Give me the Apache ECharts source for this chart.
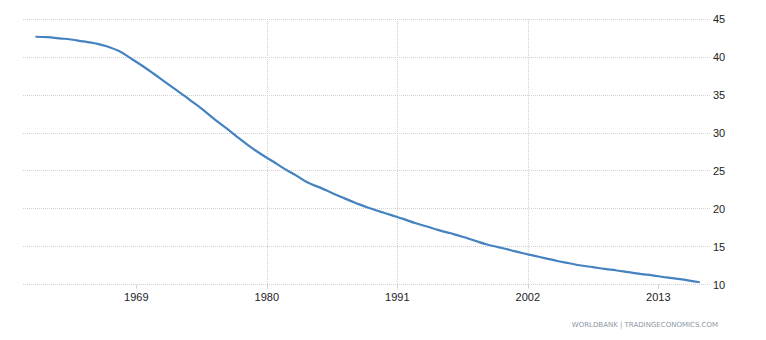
<!DOCTYPE html>
<html>
<head>
<meta charset="utf-8">
<style>
  html, body { margin: 0; padding: 0; background: #fff; }
  #chart { width: 766px; height: 340px; }
</style>
<script src="https://cdn.jsdelivr.net/npm/echarts@6/dist/echarts.min.js"></script>
</head>
<body>
<div id="chart"></div>
<script>
var years = [];
for (var y = 1960; y <= 2016; y++) years.push(y);
var values = [
  42.66, 42.6, 42.45, 42.3, 42.05, 41.8, 41.4, 40.8, 39.85, 38.84,
  37.75, 36.6, 35.5, 34.35, 33.2, 31.9, 30.7, 29.47, 28.27, 27.2,
  26.25, 25.25, 24.35, 23.4, 22.77, 22.07, 21.39, 20.75, 20.15, 19.64,
  19.15, 18.65, 18.1, 17.65, 17.17, 16.75, 16.3, 15.8, 15.3, 14.93,
  14.55, 14.15, 13.8, 13.45, 13.1, 12.8, 12.5, 12.28, 12.05, 11.85,
  11.62, 11.4, 11.2, 10.98, 10.77, 10.55, 10.3
];
var xTicks = [1969, 1980, 1991, 2002, 2013];
var source = 'WORLDBANK | TRADINGECONOMICS.COM';

// annual values sit in the middle of their year
var points = years.map(function(yr, i) { return [yr + 0.5, values[i]]; });

var chart = echarts.init(document.getElementById('chart'), null, { renderer: 'svg' });
chart.setOption({
  animation: false,
  grid: { left: 23, right: 56, top: 19, bottom: 55.5 },
  xAxis: {
    type: 'value',
    min: 1959.45,
    max: 2017.36,
    axisLine: { show: false },
    axisTick: { show: true, customValues: xTicks, length: 4, lineStyle: { color: '#d0d0d0' } },
    axisLabel: {
      customValues: xTicks,
      formatter: function(v) { return String(v); },
      color: '#222',
      fontFamily: 'Liberation Sans, Arial, sans-serif',
      fontSize: 11,
      margin: 7
    },
    splitLine: { show: true, showMinLine: false, showMaxLine: false, lineStyle: { color: '#d2d2d2', type: [1, 1] } }
  },
  yAxis: {
    type: 'value',
    position: 'right',
    min: 10,
    max: 45,
    interval: 5,
    axisLine: { show: false },
    axisTick: { show: false },
    axisLabel: {
      color: '#222',
      fontFamily: 'Liberation Sans, Arial, sans-serif',
      fontSize: 11,
      margin: 3
    },
    splitLine: { lineStyle: { color: '#d2d2d2', type: [1, 1] } }
  },
  graphic: [{
    type: 'text',
    right: 48,
    top: 321,
    style: {
      text: source,
      fill: '#8c98a4',
      font: '7px "DejaVu Sans", Verdana, sans-serif'
    }
  }],
  series: [{
    type: 'line',
    data: points,
    showSymbol: false,
    smooth: true,
    lineStyle: { color: '#4582c0', width: 2.2 }
  }]
});
window.addEventListener('resize', function() { chart.resize(); });
</script>
</body>
</html>
